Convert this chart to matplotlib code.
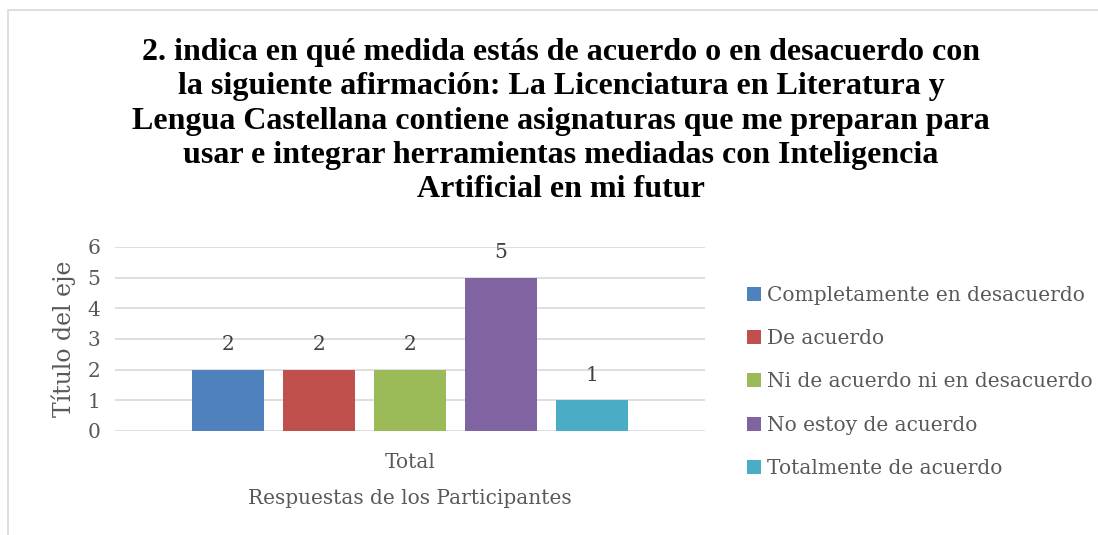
import matplotlib
matplotlib.use("Agg")
import matplotlib.pyplot as plt
from matplotlib.patches import Rectangle, Patch

categories = ["Total"]
series_names = ["Completamente en desacuerdo", "De acuerdo",
                "Ni de acuerdo ni en desacuerdo", "No estoy de acuerdo",
                "Totalmente de acuerdo"]
series_values = [2, 2, 2, 5, 1]
colors = ["#4F81BD", "#C0504D", "#9BBB59", "#8064A2", "#4BACC6"]
yticks = [0, 1, 2, 3, 4, 5, 6]
title = ("2. indica en qué medida estás de acuerdo o en desacuerdo con\n"
         "la siguiente afirmación: La Licenciatura en Literatura y\n"
         "Lengua Castellana contiene asignaturas que me preparan para\n"
         "usar e integrar herramientas mediadas con Inteligencia\n"
         "Artificial en mi futur")

W, H = 1098, 535
fig = plt.figure(figsize=(W/100, H/100), dpi=100)
fig.patches.append(Rectangle((8/W, -0.1), 1.2, 1 - 10/H + 0.1, transform=fig.transFigure,
                             fill=False, edgecolor="#D9D9D9", linewidth=1.2))

ax = fig.add_axes([115/W, 1 - 431/H, 590/W, (431 - 247)/H])
serif = ["DejaVu Serif"]
gray = "#595959"
step = 91/590
width = 72/590
n = len(series_values)
for i, (name, v, c) in enumerate(zip(series_names, series_values, colors)):
    x = (i - (n - 1)/2) * step
    ax.bar(x, v, width=width, color=c, label=name, zorder=3)
    ax.text(x, v + 0.5, str(v), ha="center", va="bottom", fontsize=14.5,
            family=serif, color="#404040")

ax.set_xlim(-0.5, 0.5)
ax.set_ylim(0, 6)
ax.set_yticks(yticks)
ax.set_yticklabels([str(t) for t in yticks], family=serif, fontsize=14.5, color=gray)
ax.set_xticks([0])
ax.set_xticklabels(categories, family=serif, fontsize=14.5, color=gray)
ax.tick_params(axis="both", length=0)
ax.tick_params(axis="y", pad=10.5)
ax.tick_params(axis="x", pad=16)
ax.grid(axis="y", color="#D9D9D9", linewidth=1.2, zorder=0)
for s in ax.spines.values():
    s.set_visible(False)
ax.set_ylabel("Título del eje", family=serif, fontsize=17, color=gray, labelpad=8)
ax.set_xlabel("Respuestas de los Participantes", family=serif, fontsize=14.5,
              color=gray, labelpad=12)

fig.text(561/W, 1 - 38/H, title, ha="center", va="top", fontsize=23,
         fontweight="bold", family=["Liberation Serif"], linespacing=1.24)

handles = [Patch(facecolor=c, edgecolor="none") for c in colors]
fig.legend(handles, series_names, loc="upper left", bbox_to_anchor=(729/W, 1 - 268/H),
           frameon=False, prop={"family": serif, "size": 14.5},
           labelcolor=gray, handlelength=0.7, handleheight=0.7, handletextpad=0.3,
           labelspacing=1.2)

fig.savefig("out.png", dpi=100)
